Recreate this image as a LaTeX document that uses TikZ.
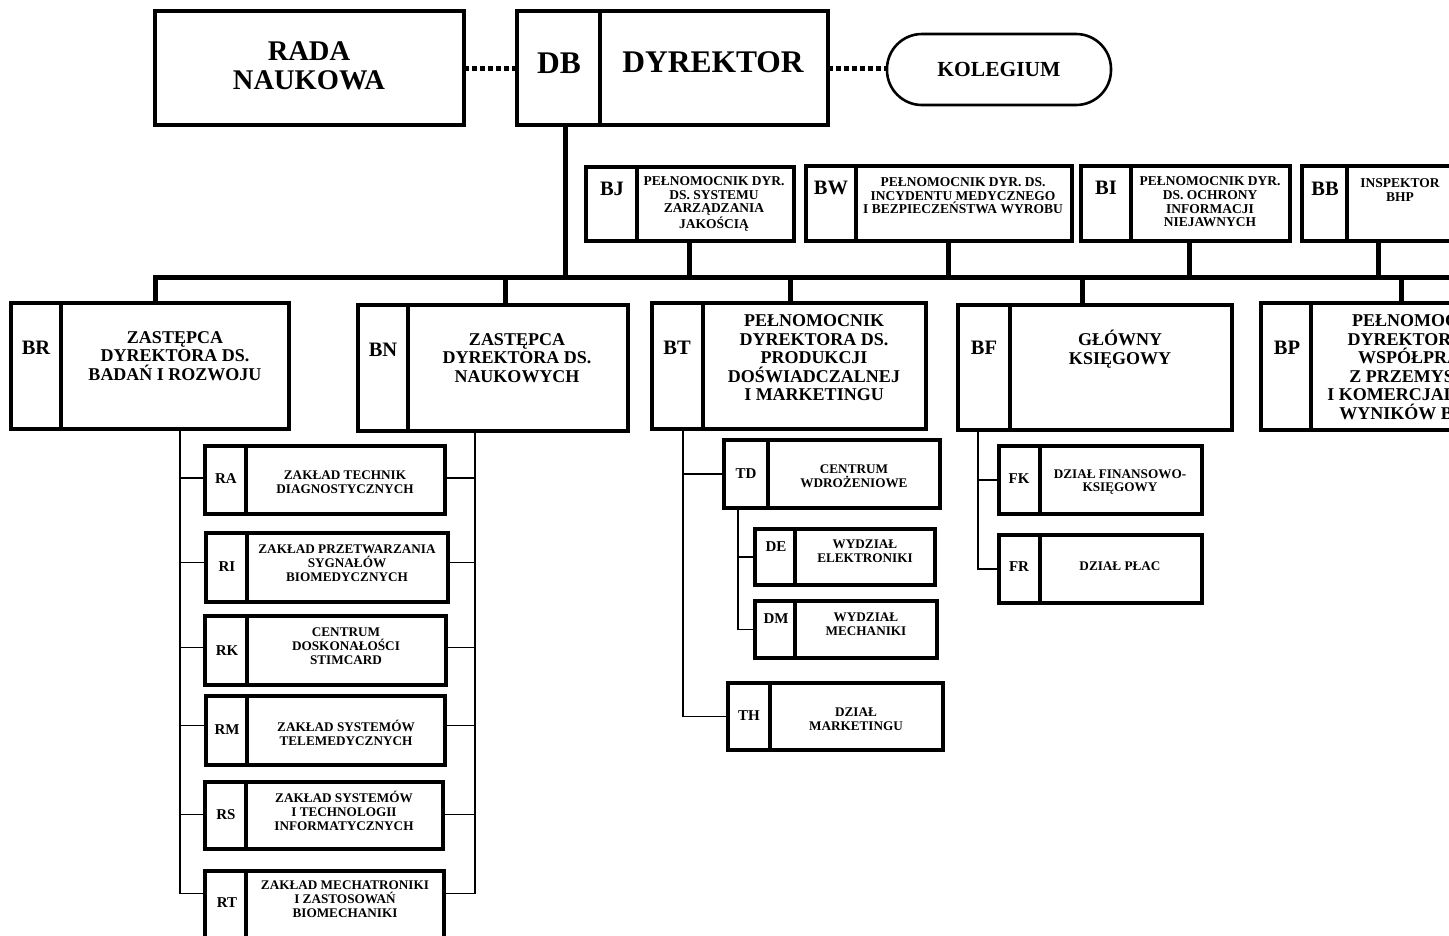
\documentclass[tikz,border=0pt]{standalone}
\usepackage{fontspec}
\setmainfont{Liberation Serif}
\usetikzlibrary{calc}
\tikzset{
  ub/.style={draw, line width=4pt, inner sep=0pt, outer sep=0pt, rectangle},
  divl/.style={line width=3.5pt},
  bus/.style={line width=5pt},
  thinl/.style={line width=1.6pt},
  dotl/.style={line width=5pt, dash pattern=on 5pt off 3pt},
  tx/.style={inner sep=0pt, align=center},
  fhuge/.style={tx, font=\bfseries\fontsize{31.5}{31.5}\selectfont},
  frada/.style={tx, font=\bfseries\fontsize{28.5}{29}\selectfont},
  fkol/.style={tx, font=\bfseries\fontsize{21.5}{21.5}\selectfont},
  fcodeB/.style={tx, font=\bfseries\fontsize{20.5}{20.5}\selectfont},
  fmid/.style={tx, font=\bfseries\fontsize{18}{18.5}\selectfont},
  fsmall/.style={tx, font=\bfseries\fontsize{13.5}{13.6}\selectfont},
  fsub/.style={tx, font=\bfseries\fontsize{13.2}{13.7}\selectfont},
  fcodeS/.style={tx, font=\bfseries\fontsize{15}{15}\selectfont},
}
\newcommand\ubox[7][]{%
  \node[ub,#1,minimum width={(#5)-(#3)},minimum height={(#6)-(#4)}] (#2) at ({((#3)+(#5))/2},{((#4)+(#6))/2}) {};
  \draw[divl] (#7,#4) -- (#7,#6);}
\begin{document}
\begin{tikzpicture}[x=1pt,y=-1pt]
\clip (0,0) rectangle (1449,935);
\fill[white] (0,0) rectangle (1449,935);

% ---------- top row ----------
\node[ub, minimum width=309, minimum height=114] (RADA) at (309.5,68) {};
\node[frada] (RADA-t) at (309,66) {RADA\\NAUKOWA};
\ubox{DB}{517}{11}{828}{125}{600}
\node[fhuge] (DB-c) at (559,63) {DB};
\node[fhuge] (DB-t) at (713,62) {DYREKTOR};
\node[draw, line width=2.6pt, rounded corners=35pt, minimum width=224, minimum height=71, fkol] (KOL) at (999,69.5) {KOLEGIUM};
\draw[dotl] (RADA.east) -- (DB.west);
\draw[dotl] (DB.east) -- (DB.east -| KOL.west);

% ---------- second row ----------
\ubox{BJ}{586}{167}{794}{241}{637}
\node[fcodeB] (BJ-c) at (612,189) {BJ};
\node[fsmall] (BJ-t) at (714,204) {PEŁNOMOCNIK DYR.\\DS. SYSTEMU\\ZARZĄDZANIA\\JAKOŚCIĄ};
\ubox{BW}{806}{166}{1072}{241}{856}
\node[fcodeB] (BW-c) at (831,188) {BW};
\node[fsmall] (BW-t) at (963,196) {PEŁNOMOCNIK DYR. DS.\\INCYDENTU MEDYCZNEGO\\I BEZPIECZEŃSTWA WYROBU};
\ubox{BI}{1081}{166}{1290}{241}{1131}
\node[fcodeB] (BI-c) at (1106,188) {BI};
\node[fsmall] (BI-t) at (1210,202) {PEŁNOMOCNIK DYR.\\DS. OCHRONY\\INFORMACJI\\NIEJAWNYCH};
\ubox{BB}{1302}{166}{1455}{241}{1347}
\node[fcodeB] (BB-c) at (1325,189) {BB};
\node[fsmall] (BB-t) at (1400,190) {INSPEKTOR\\BHP};

% ---------- third row ----------
\ubox{BR}{11}{303}{289}{429}{61}
\node[fcodeB] (BR-c) at (36,348) {BR};
\node[fmid] (BR-t) at (175,356) {ZASTĘPCA\\DYREKTORA DS.\\BADAŃ I ROZWOJU};
\ubox{BN}{358}{305}{628}{431}{408}
\node[fcodeB] (BN-c) at (383,350) {BN};
\node[fmid] (BN-t) at (517,358) {ZASTĘPCA\\DYREKTORA DS.\\NAUKOWYCH};
\ubox{BT}{652}{303}{926}{429}{703}
\node[fcodeB] (BT-c) at (677,348) {BT};
\node[fmid] (BT-t) at (814,358) {PEŁNOMOCNIK\\DYREKTORA DS.\\PRODUKCJI\\DOŚWIADCZALNEJ\\I MARKETINGU};
\ubox{BF}{958}{305}{1232}{430}{1010}
\node[fcodeB] (BF-c) at (984,348) {BF};
\node[fmid] (BF-t) at (1120,349) {GŁÓWNY\\KSIĘGOWY};
\ubox{BP}{1261}{303}{1535}{430}{1311}
\node[fcodeB] (BP-c) at (1287,348) {BP};
\node[fmid] (BP-t) at (1422,367) {PEŁNOMOCNIK\\DYREKTORA DS.\\WSPÓŁPRACY\\Z PRZEMYSŁEM\\I KOMERCJALIZACJI\\WYNIKÓW BADAŃ};

% ---------- bus ----------
\coordinate (busL) at (155,277);
\coordinate (busR) at (1470,277);
\coordinate (dbx) at (565,277);
\coordinate (bjx) at (689,277);
\coordinate (bwx) at (948,277);
\coordinate (bix) at (1189,277);
\coordinate (bbx) at (1378,277);
\coordinate (bnx) at (505,277);
\coordinate (btx) at (790,277);
\coordinate (bfx) at (1082,277);
\coordinate (bpx) at (1401,277);
\draw[bus] (dbx |- DB.south) -- (dbx);
\draw[bus] (busL |- BR.north) -- (busL) -- (busR);
\foreach \n/\c in {BJ/bjx, BW/bwx, BI/bix, BB/bbx}
  \draw[bus] (\c |- \n.south) -- (\c);
\foreach \n/\c in {BN/bnx, BT/btx, BF/bfx, BP/bpx}
  \draw[bus] (\c) -- (\c |- \n.north);

% ---------- units under BR / BN ----------
\ubox{RA}{205}{446}{445}{514}{246}
\node[fcodeS] (RA-c) at (226,479) {RA};
\node[fsub] (RA-t) at (345,482) {ZAKŁAD TECHNIK\\DIAGNOSTYCZNYCH};
\ubox{RI}{206}{533}{448}{602}{247}
\node[fcodeS] (RI-c) at (227,567) {RI};
\node[fsub] (RI-t) at (347,563) {ZAKŁAD PRZETWARZANIA\\SYGNAŁÓW\\BIOMEDYCZNYCH};
\ubox{RK}{205}{616}{446}{685}{247}
\node[fcodeS] (RK-c) at (227,651) {RK};
\node[fsub] (RK-t) at (346,646) {CENTRUM\\DOSKONAŁOŚCI\\STIMCARD};
\ubox{RM}{206}{696}{445}{765}{247}
\node[fcodeS] (RM-c) at (227,730) {RM};
\node[fsub] (RM-t) at (346,733) {ZAKŁAD SYSTEMÓW\\TELEMEDYCZNYCH};
\ubox{RS}{205}{782}{443}{849}{246}
\node[fcodeS] (RS-c) at (226,815) {RS};
\node[fsub] (RS-t) at (344,811) {ZAKŁAD SYSTEMÓW\\I TECHNOLOGII\\INFORMATYCZNYCH};
\ubox{RT}{205}{871}{444}{950}{246}
\node[fcodeS] (RT-c) at (227,903) {RT};
\node[fsub] (RT-t) at (345,899) {ZAKŁAD MECHATRONIKI\\I ZASTOSOWAŃ\\BIOMECHANIKI};

\coordinate (sL) at (180,0);
\coordinate (sR) at (475,0);
\foreach \n/\d in {RA/2, RI/5, RK/3, RM/5, RS/1, RT/17} {
  \coordinate (\n-l) at ([yshift=\d pt]\n.west);
  \coordinate (\n-r) at ([yshift=\d pt]\n.east);
  \draw[thinl] (\n-l) -- (\n-l -| sL);
  \draw[thinl] (\n-r) -- (\n-r -| sR);
}
\draw[thinl] (sL |- BR.south) -- (sL |- RT-l);
\draw[thinl] (sR |- BN.south) -- (sR |- RT-r);

% ---------- units under BT ----------
\ubox{TD}{724}{440}{940}{508}{768}
\node[fcodeS] (TD-c) at (746,474) {TD};
\node[fsub] (TD-t) at (854,476) {CENTRUM\\WDROŻENIOWE};
\ubox{DE}{755}{529}{935}{585}{795}
\node[fcodeS] (DE-c) at (776,547) {DE};
\node[fsub] (DE-t) at (865,551) {WYDZIAŁ\\ELEKTRONIKI};
\ubox{DM}{755}{601}{937}{658}{795}
\node[fcodeS] (DM-c) at (776,619) {DM};
\node[fsub] (DM-t) at (866,624) {WYDZIAŁ\\MECHANIKI};
\ubox{TH}{728}{683}{943}{750}{770}
\node[fcodeS] (TH-c) at (749,716) {TH};
\node[fsub] (TH-t) at (856,719) {DZIAŁ\\MARKETINGU};

\coordinate (sT) at (683,0);
\coordinate (sD) at (738,0);
\draw[thinl] (sT |- BT.south) -- (sT |- TH.west) -- (TH.west);
\draw[thinl] (TD.west) -- (TD.west -| sT);
\draw[thinl] (sD |- TD.south) -- (sD |- DM.west) -- (DM.west);
\draw[thinl] (DE.west) -- (DE.west -| sD);

% ---------- units under BF ----------
\ubox{FK}{999}{446}{1202}{514}{1040}
\node[fcodeS] (FK-c) at (1019,479) {FK};
\node[fsub] (FK-t) at (1120,482) {DZIAŁ FINANSOWO-\\KSIĘGOWY};
\ubox{FR}{999}{535}{1202}{603}{1040}
\node[fcodeS] (FR-c) at (1019,567) {FR};
\node[fsub] (FR-t) at (1120,566) {DZIAŁ PŁAC};

\coordinate (sF) at (978,0);
\draw[thinl] (sF |- BF.south) -- (sF |- FR.west) -- (FR.west);
\draw[thinl] (FK.west) -- (FK.west -| sF);
\end{tikzpicture}
\end{document}
